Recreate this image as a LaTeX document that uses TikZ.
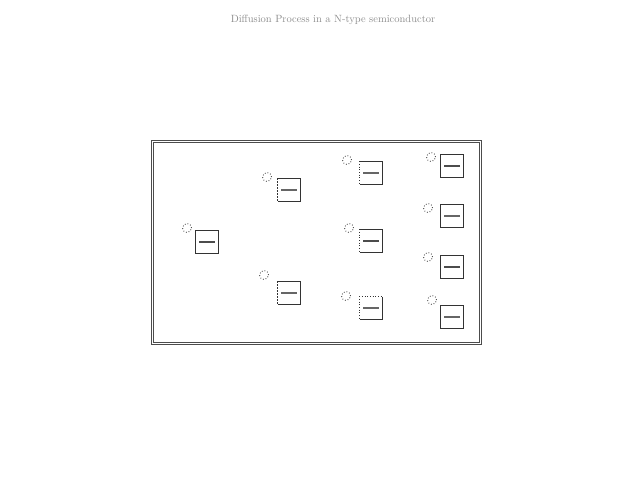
\documentclass[tikz,border=0pt]{standalone}
\begin{document}
\begin{tikzpicture}[x=1pt,y=-1pt,
  elbox/.style={draw=black!80,line width=0.6pt,minimum size=23pt,inner sep=0pt,fill=white},
  hole/.style={draw=black!85,dotted,line width=0.8pt,circle,minimum size=9pt,inner sep=0pt},
  minus/.style={draw=black!60,line width=1.4pt},
  thickminus/.style={draw=black!70,line width=2.2pt},
  framebox/.style={draw=black!70,line width=0.6pt,inner sep=0pt}]
\useasboundingbox (0,0) rectangle (640,480);
\node[text=black!45,font=\fontsize{10.5}{12}\selectfont] (title) at (333,20) {Diffusion Process in a N-type semiconductor};
\node[framebox,minimum width=330pt,minimum height=204pt] (frame) at (316,242) {};
\node[framebox,minimum width=326pt,minimum height=200pt] (frameinner) at (316,242) {};
% boxes
\foreach \n/\x/\y/\cx/\cy/\st in {
  b1/207/242/187/228/thickminus,
  b2/289/190/267/177/minus,
  b3/371/173/347/160/minus,
  b4/452/166/431/157/thickminus,
  b5/452/216/428/208/minus,
  b6/371/241/349/228/thickminus,
  b7/452/267/428/257/thickminus,
  b8/289/293/264/275/minus,
  b9/371/308/346/296/minus,
  b10/452/317/432/300/minus}{
  \node[elbox] (\n) at (\x,\y) {};
  \node[hole] (h\n) at (\cx,\cy) {};
  \draw[\st] ([xshift=-8pt]\n.center) -- ([xshift=8pt]\n.center);
}
\draw[white,line width=0.8pt] (b2.north west) -- (b2.south west);
\draw[black!80,line width=0.6pt,dash pattern=on 2pt off 1pt] (b2.north west) -- (b2.south west);
\draw[white,line width=0.8pt] (b8.north west) -- (b8.south west);
\draw[black!80,line width=0.6pt,dash pattern=on 2pt off 1pt] (b8.north west) -- (b8.south west);
\foreach \n in {b3,b6,b9}{
  \draw[white,line width=0.8pt] (\n.north west) -- (\n.south west);
  \draw[black!80,dotted,line width=0.7pt] (\n.north west) -- (\n.south west);
}
\draw[white,line width=0.8pt] (b9.north west) -- (b9.north east);
\draw[black!80,dotted,line width=0.7pt] (b9.north west) -- (b9.north east);
\end{tikzpicture}
\end{document}
